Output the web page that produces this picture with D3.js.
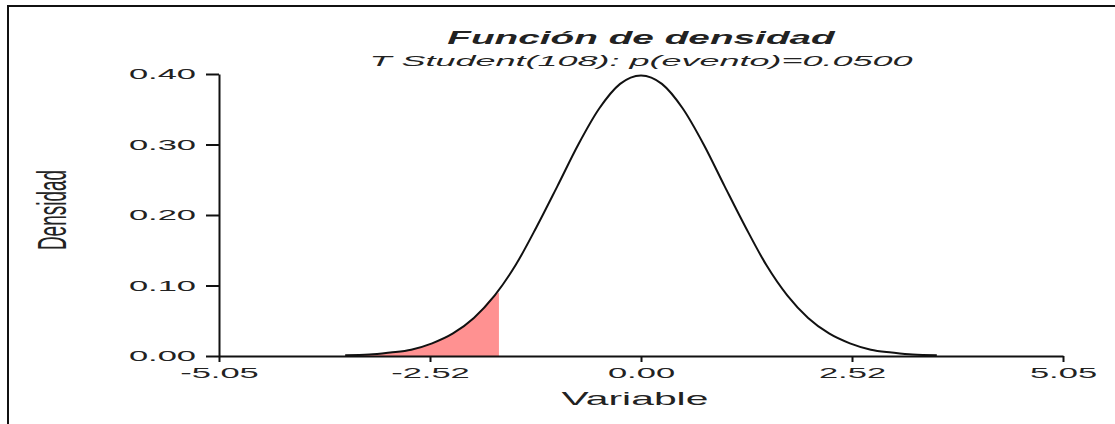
<!DOCTYPE html>
<html>
<head>
<meta charset="utf-8">
<script src="https://cdn.jsdelivr.net/npm/d3@7"></script>
<style>
  body { margin: 0; background: #fff; }
  text { font-family: "Liberation Sans", Arial, sans-serif; fill: #222; }
</style>
</head>
<body>
<svg id="chart" width="1115" height="424"></svg>
<script>
// density curve (T Student, 108 df)
const densX = [-3.54, -3.25, -3.0, -2.75, -2.5, -2.25, -2.0, -1.75, -1.5, -1.25, -1.0, -0.75, -0.5, -0.25, 0,
               0.25, 0.5, 0.75, 1.0, 1.25, 1.5, 1.75, 2.0, 2.25, 2.5, 2.75, 3.0, 3.25, 3.54];
const densY = [0.001, 0.002, 0.005, 0.009, 0.018, 0.032, 0.054, 0.086, 0.129, 0.183, 0.241, 0.300, 0.351, 0.386, 0.398,
               0.386, 0.351, 0.300, 0.241, 0.183, 0.129, 0.086, 0.054, 0.032, 0.018, 0.009, 0.005, 0.002, 0.001];

// shaded left tail, p(evento)=0.05
const tailX = [-3.54, -3.25, -3.0, -2.75, -2.5, -2.25, -2.0, -1.75, -1.70];
const tailY = [0.001, 0.002, 0.005, 0.009, 0.018, 0.032, 0.054, 0.086, 0.090];

const xTicks = [-5.05, -2.525, 0, 2.525, 5.05];
const xTickLabels = ["-5.05", "-2.52", "0.00", "2.52", "5.05"];
const yTicks = [0, 0.1, 0.2, 0.3, 0.4];

const titleText = "Función de densidad";
const subtitleText = "T Student(108): p(evento)=0.0500";
const xLabel = "Variable";
const yLabel = "Densidad";

const svg = d3.select("#chart");

// frame
svg.append("path")
    .attr("d", "M8,1200 L8,6 L1200,6")
    .attr("fill", "none")
    .attr("stroke", "#111")
    .attr("stroke-width", 2);

const xScale = d3.scaleLinear().domain([-5.05, 5.05]).range([219, 1063]);
const yScale = d3.scaleLinear().domain([0, 0.4]).range([356, 74]);

const curve = densX.map((x, i) => ({ x: x, y: densY[i] }));
const tail = tailX.map((x, i) => ({ x: x, y: tailY[i] }));

// shaded area
svg.append("path")
    .datum(tail)
    .attr("fill", "#ff9191")
    .attr("d", d3.area()
        .x(d => xScale(d.x))
        .y0(yScale(0))
        .y1(d => yScale(d.y))
        .curve(d3.curveMonotoneX));

// axes
const kTick = 2.3;
const xAxis = svg.append("g")
    .attr("transform", `translate(0,${yScale(0)})`)
    .call(d3.axisBottom(xScale)
        .tickValues(xTicks)
        .tickFormat((d, i) => xTickLabels[i])
        .tickSizeInner(6)
        .tickSizeOuter(0));

const yAxis = svg.append("g")
    .attr("transform", `translate(${xScale(-5.05)},0)`)
    .call(d3.axisLeft(yScale)
        .tickValues(yTicks)
        .tickFormat(d3.format(".2f"))
        .tickSizeInner(13)
        .tickSizeOuter(0));

[xAxis, yAxis].forEach(g => {
    g.select(".domain").attr("stroke", "#111").attr("stroke-width", 2);
    g.selectAll(".tick line").attr("stroke", "#111").attr("stroke-width", 2);
    g.selectAll(".tick text")
        .attr("fill", "#222")
        .style("font-size", "15px")
        .style("font-family", "'Liberation Sans', Arial, sans-serif");
});

xAxis.selectAll(".tick text")
    .attr("y", 22)
    .attr("dy", 0)
    .attr("transform", `scale(${kTick},1)`);

yAxis.selectAll(".tick text")
    .attr("x", -23 / kTick)
    .attr("transform", `scale(${kTick},1)`);

// density line
svg.append("path")
    .datum(curve)
    .attr("fill", "none")
    .attr("stroke", "#111")
    .attr("stroke-width", 2)
    .attr("d", d3.line()
        .x(d => xScale(d.x))
        .y(d => yScale(d.y))
        .curve(d3.curveMonotoneX));

// titles
svg.append("text")
    .attr("transform", "translate(641,44) scale(2.04,1)")
    .attr("text-anchor", "middle")
    .style("font-size", "19px")
    .style("font-weight", "bold")
    .style("font-style", "italic")
    .text(titleText);

svg.append("text")
    .attr("transform", "translate(641,66) scale(2.4,1)")
    .attr("text-anchor", "middle")
    .style("font-size", "15px")
    .style("font-style", "italic")
    .text(subtitleText);

svg.append("text")
    .attr("transform", "translate(635,405) scale(2.15,1)")
    .attr("text-anchor", "middle")
    .style("font-size", "19px")
    .text(xLabel);

svg.append("text")
    .attr("transform", "translate(52,210) scale(2.1,1) rotate(-90)")
    .attr("text-anchor", "middle")
    .attr("dy", "0.36em")
    .style("font-size", "19px")
    .text(yLabel);
</script>
</body>
</html>
